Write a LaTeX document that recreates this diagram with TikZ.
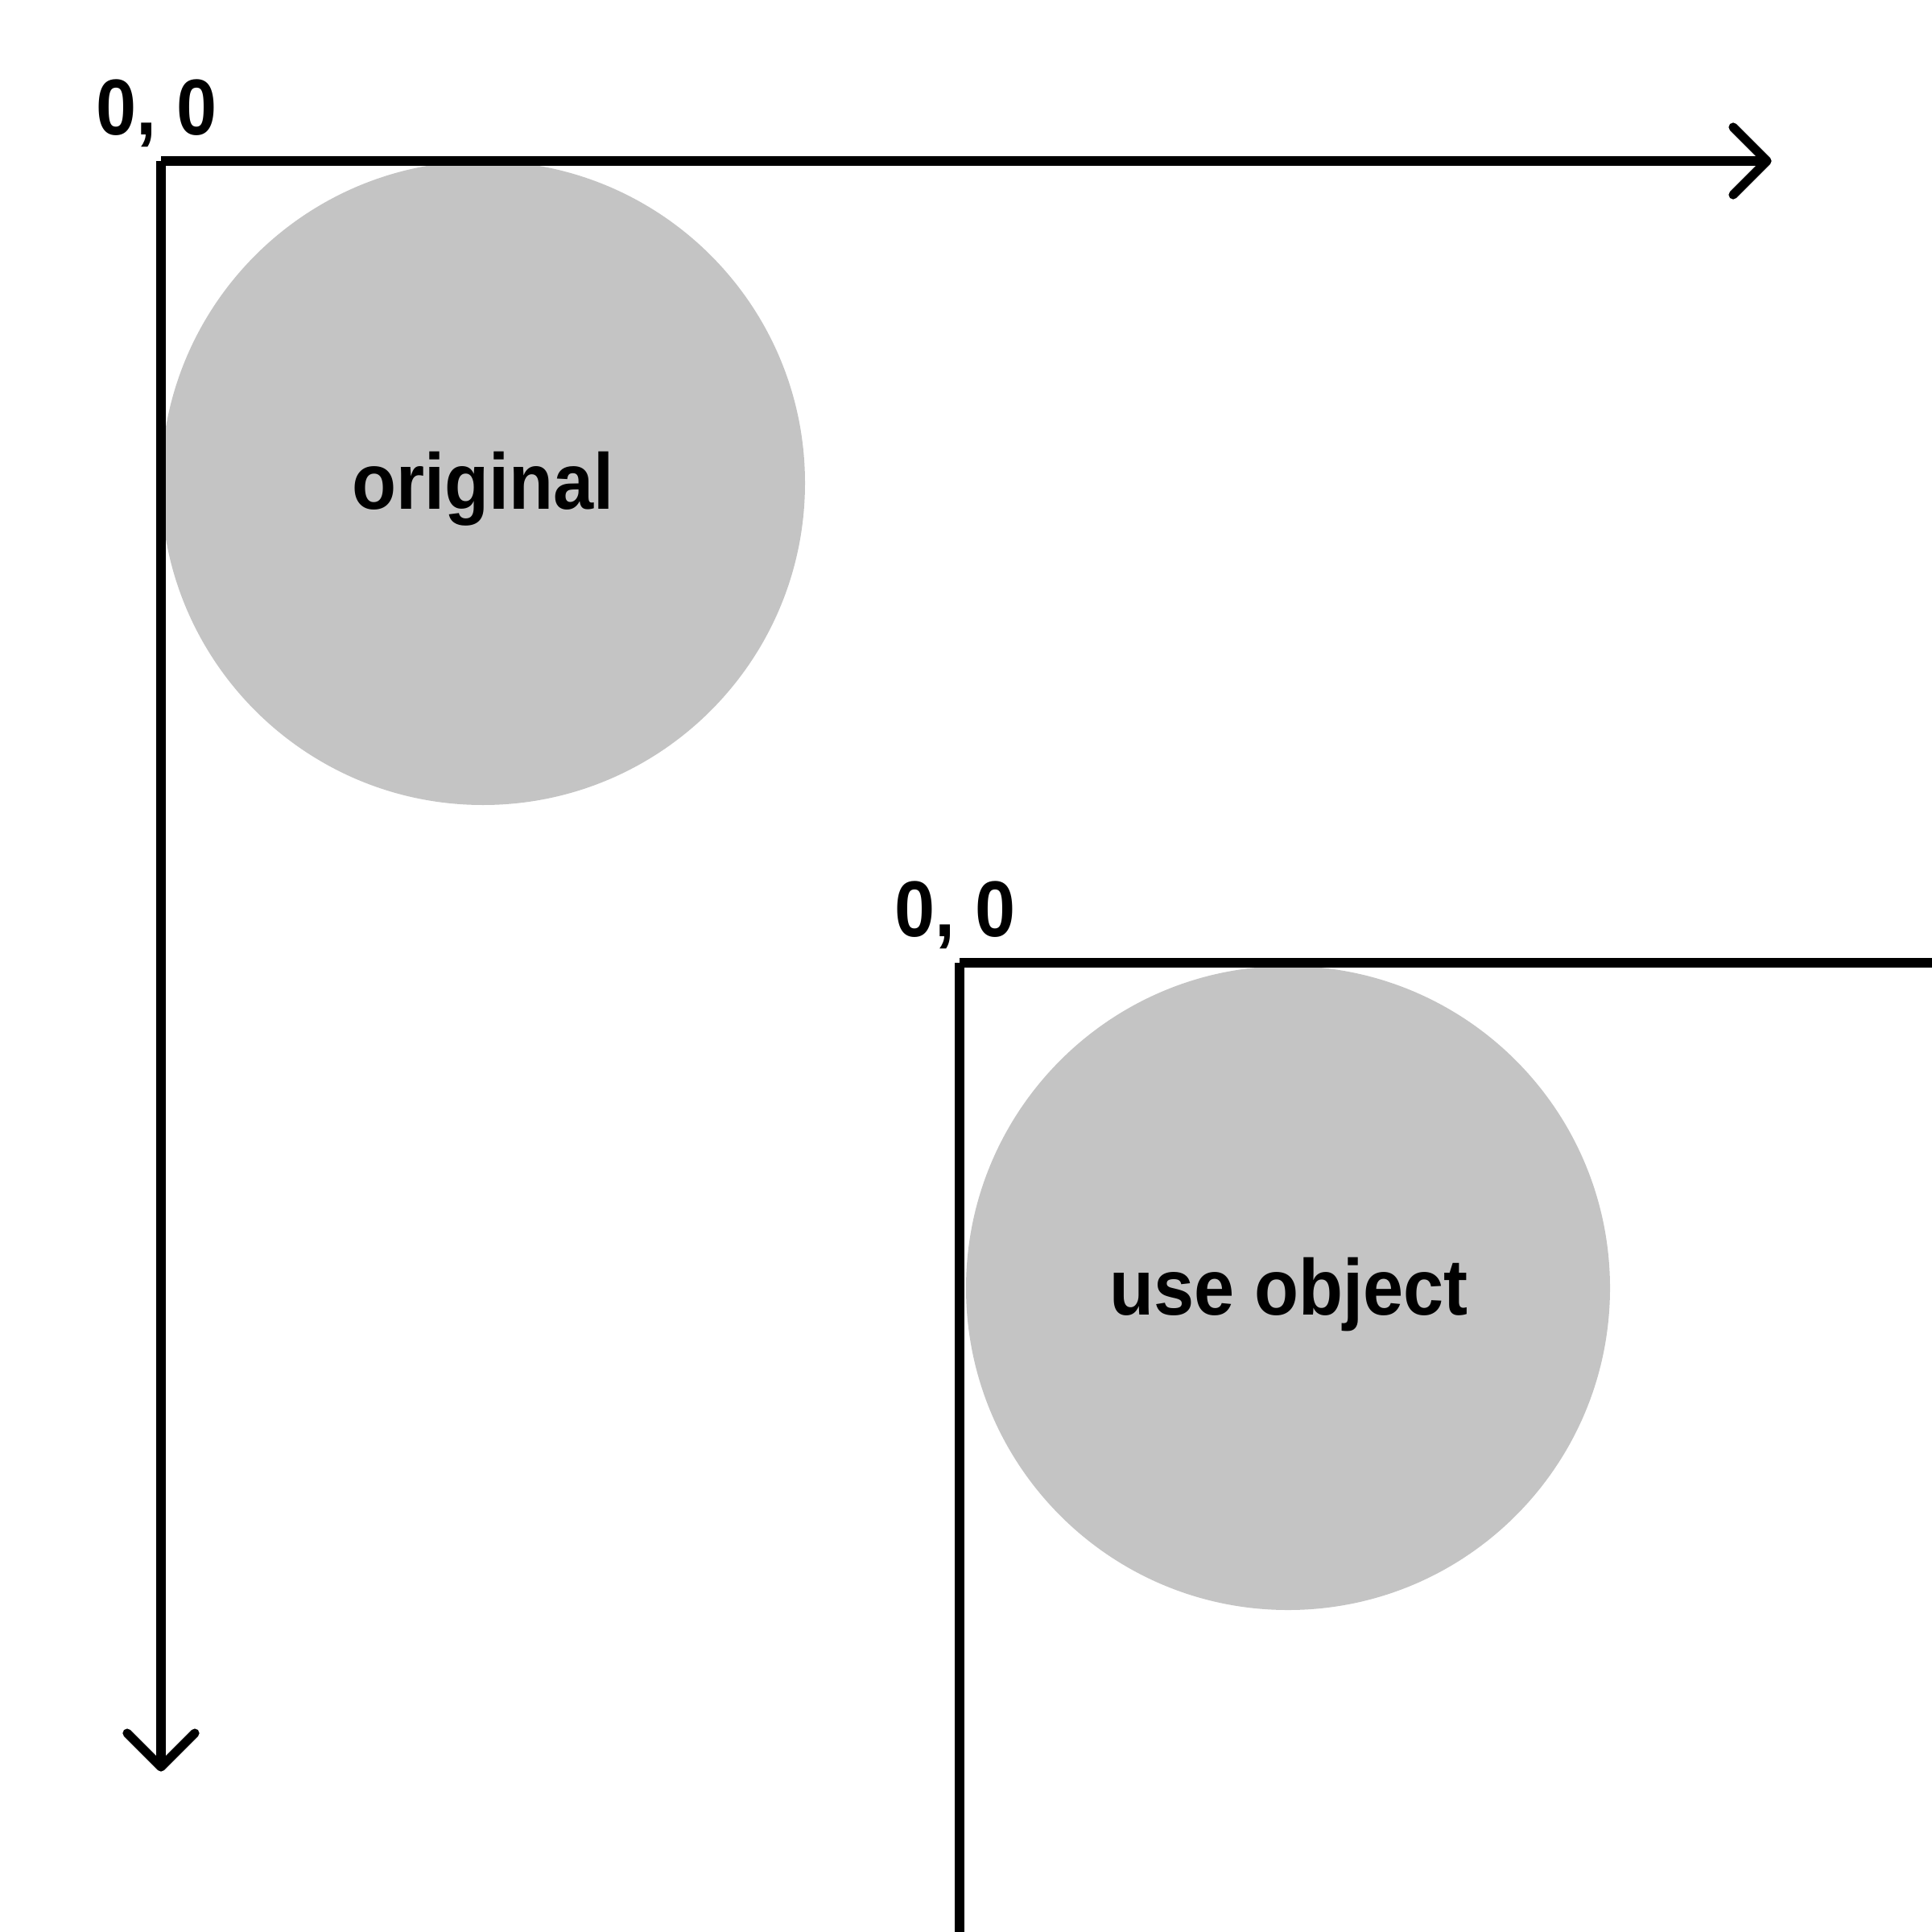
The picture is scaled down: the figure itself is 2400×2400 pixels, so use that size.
\documentclass[tikz,border=0pt]{standalone}
\usepackage{fontspec}
\setmainfont[FakeStretch=0.915]{Liberation Sans}
\definecolor{disk}{HTML}{C4C4C4}
\begin{document}
\begin{tikzpicture}[x=0.1mm,y=-0.1mm,
  axis/.style={line width=3.2pt,line cap=butt},
  tipline/.style={line width=3.2pt,line cap=round,line join=round},
  disc/.style={fill=disk,draw=none},
  lbl/.style={font=\fontsize{28}{30}\selectfont\bfseries,inner sep=0pt,anchor=base}]
\clip (0,0) rectangle (2400,2400);
\useasboundingbox (0,0) rectangle (2400,2400);
% first system
\fill[disc] (600,600) circle[radius=400];
\node[lbl] (orig) at (600,632) {original};
\coordinate (o1) at (200,200);
\coordinate (x1) at (2195,200);
\coordinate (y1) at (200,2195);
\draw[axis] (o1) -- (x1);
\draw[axis] (o1) -- (y1);
\draw[tipline] ([shift={(-42,-42)}]x1) -- (x1) -- ([shift={(-42,42)}]x1);
\draw[tipline] ([shift={(-42,-42)}]y1) -- (y1) -- ([shift={(42,-42)}]y1);
\node[lbl] (l1) at (195,168) {0, 0};
% second system
\fill[disc] (1600,1600) circle[radius=400];
\node[lbl] (use) at (1601,1633) {use object};
\coordinate (o2) at (1192,1196);
\coordinate (x2) at (2500,1196);
\coordinate (y2) at (1192,2500);
\draw[axis] (o2) -- (x2);
\draw[axis] (o2) -- (y2);
\node[lbl] (l2) at (1187,1163) {0, 0};
\end{tikzpicture}
\end{document}
